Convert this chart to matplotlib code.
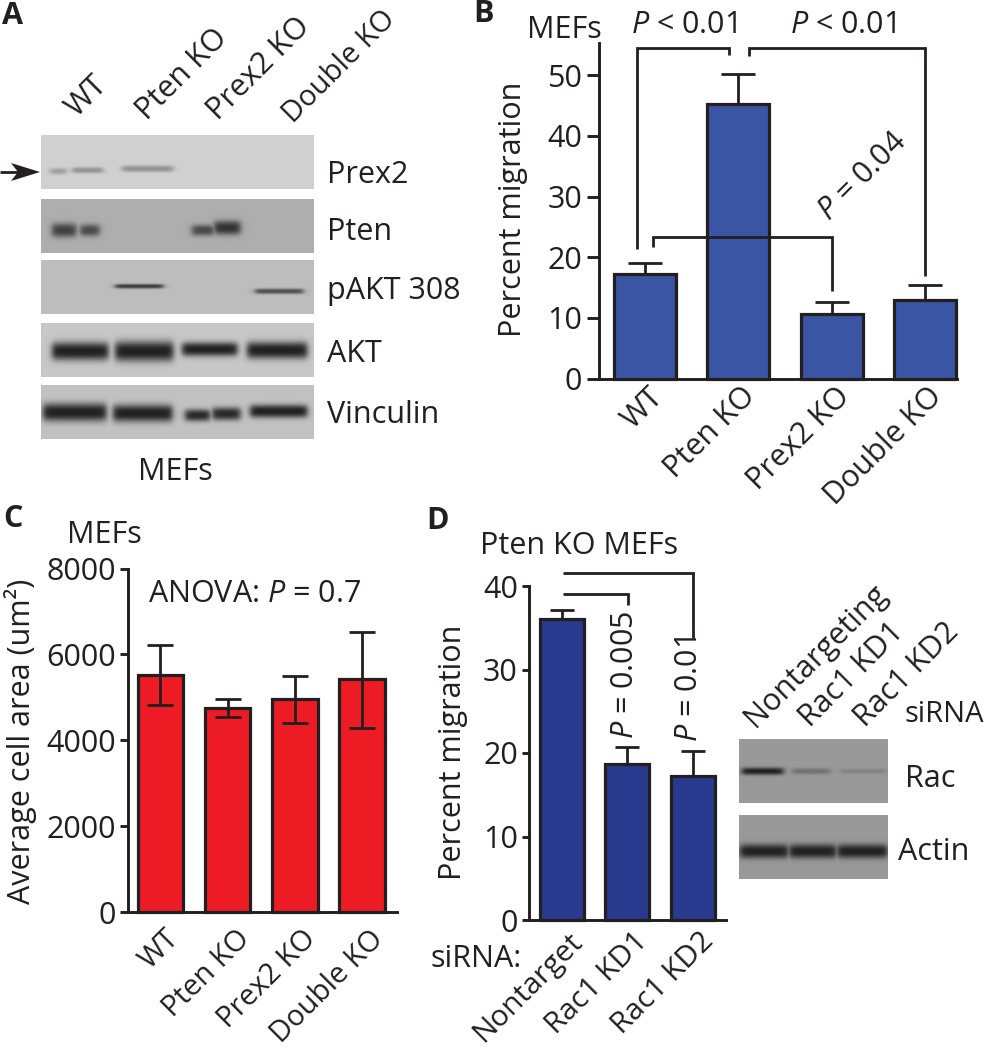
import numpy as np
import matplotlib
matplotlib.use("Agg")
import matplotlib.pyplot as plt
from matplotlib.patches import Polygon
from matplotlib.transforms import ScaledTranslation

W, H = 986, 1050
INK = "#231F20"
plt.rcParams["font.family"] = ["Open Sans", "DejaVu Sans"]
plt.rcParams["mathtext.fontset"] = "custom"
plt.rcParams["mathtext.it"] = "Open Sans:italic"
plt.rcParams["mathtext.rm"] = "Open Sans"
plt.rcParams["text.color"] = INK
FS = 22

# ---------- data ----------
geno = ["WT", "Pten KO", "Prex2 KO", "Double KO"]
mig_vals = [17.2, 45.2, 10.6, 12.9]
mig_err = [1.8, 5.0, 2.1, 2.6]
area_vals = [5530, 4760, 4955, 5420]
area_lo = [700, 230, 555, 1135]
area_hi = [690, 200, 530, 1100]
sirna = ["Nontarget", "Rac1 KD1", "Rac1 KD2"]
kd_vals = [36.0, 18.7, 17.3]
kd_err = [1.1, 2.0, 2.9]
mig_ticks = [0, 10, 20, 30, 40, 50]
area_ticks = [0, 2000, 4000, 6000, 8000]
kd_ticks = [0, 10, 20, 30, 40]

# blot panels: (left, top, right, bottom, background, bands)
# band: (x0, x1, y centre, half height, strength)
blots = [
    (41, 135, 314, 189, 0.82, [(50, 66, 171, 3.2, .30), (72, 103, 170, 3.0, .36), (122, 173, 168.5, 3.2, .36)]),
    (41, 199, 314, 253, 0.68, [(52, 76, 230, 7, .78), (80, 99, 230, 6, .72), (192, 214, 230, 5.5, .72), (214, 240, 227.5, 7, .88)]),
    (41, 260, 314, 314, 0.74, [(115, 163, 286, 2.2, .85), (255, 303, 291, 2.6, .72)]),
    (41, 323, 314, 377, 0.78, [(52, 108, 351, 9, 1), (115, 173, 351, 10, 1), (182, 237, 349, 7, 1), (247, 307, 350, 8.5, 1)]),
    (41, 385, 314, 439, 0.76, [(43, 106, 412, 9, 1), (113, 172, 413, 8.5, 1), (185, 210, 415, 6, .95), (212, 240, 413.5, 6.5, .95), (250, 307, 411, 6.5, 1)]),
    (739, 739, 888, 803, 0.60, [(742, 783, 771, 3.6, 1), (792, 830, 771, 3, .32), (840, 886, 771, 2.6, .18)]),
    (739, 815, 888, 879, 0.60, [(740, 788, 851, 7, 1), (789, 836, 851, 7, 1), (837, 887, 851, 7, 1)]),
]

fig = plt.figure(figsize=(W / 100, H / 100), dpi=100, facecolor="white")


def axes_px(l, t, r, b):
    ax = fig.add_axes([l / W, 1 - b / H, (r - l) / W, (b - t) / H])
    ax.patch.set_alpha(0)
    for s in ("top", "right"):
        ax.spines[s].set_visible(False)
    for s in ("left", "bottom"):
        ax.spines[s].set_linewidth(2.1)
        ax.spines[s].set_color(INK)
    return ax


def bar_panel(ax, labels, vals, ticks, color, tick_len, width, err_kw, dxs, pad, xfs=FS):
    x = np.arange(len(vals))
    ax.bar(x, vals, width=width, color=color, edgecolor=INK, linewidth=2.3, zorder=2, clip_on=False)
    ax.errorbar(x, vals, ecolor=INK, fmt="none", clip_on=False, **err_kw)
    ax.set_yticks(ticks)
    ax.tick_params(axis="y", length=tick_len, width=2.1, color=INK, labelsize=FS, pad=3, labelcolor=INK)
    ax.tick_params(axis="x", length=0, pad=pad, labelsize=xfs, labelcolor=INK)
    ax.set_xticks(x)
    ax.set_xticklabels(labels, rotation=45, ha="right", rotation_mode="anchor", va="top")
    for t, dx in zip(ax.get_xticklabels(), dxs):
        t.set_transform(t.get_transform() + ScaledTranslation(dx / 100, 0, fig.dpi_scale_trans))


def bracket(ax, xs, ys):
    ax.plot(xs, ys, color=INK, lw=2.0, clip_on=False, zorder=5, solid_joinstyle="miter", solid_capstyle="butt")


# ---------- panel B ----------
axB = axes_px(599, 43, 957, 378.7)
axB.set_xlim(-0.493, 3.345)
axB.set_ylim(0, 55.3)
bar_panel(axB, geno, mig_vals, mig_ticks, "#3B55A5", 9, 0.665,
          dict(yerr=mig_err, elinewidth=2.0, capsize=12, capthick=2.0, zorder=1), [3, 2, 3, 2], 2)
bracket(axB, [-0.086, -0.086, 0.9, 0.9], [21.3, 54.5, 54.5, 53.3])
bracket(axB, [1.115, 1.115, 3.0, 3.0], [53.1, 54.5, 54.5, 17.0])
bracket(axB, [0.086, 0.086, 2.0, 2.0], [21.7, 23.3, 23.3, 14.4])

# ---------- panel C ----------
axC = axes_px(127.5, 568.5, 397, 912)
axC.set_xlim(-0.49, 3.52)
axC.set_ylim(0, 8000)
bar_panel(axC, geno, area_vals, area_ticks, "#ED1C24", 5.5, 0.68,
          dict(yerr=[area_lo, area_hi], elinewidth=2.0, capsize=9.3, capthick=2.0, zorder=3), [4, 8, 7, 7], 9, xfs=21)

# ---------- panel D ----------
axD = axes_px(529, 586, 726, 920)
axD.set_xlim(-0.506, 2.51)
axD.set_ylim(0, 40)
bar_panel(axD, sirna, kd_vals, kd_ticks, "#283A8E", 5, 0.675,
          dict(yerr=kd_err, elinewidth=2.0, capsize=8.3, capthick=2.0, zorder=1), [6, 6, 6], 5, xfs=21.5)
bracket(axD, [0.015, 1.01, 1.01], [39.07, 39.07, 37.7])
bracket(axD, [0.015, 2.0, 2.0], [41.5, 41.5, 33.8])

# ---------- overlay in pixel coordinates: blots and text ----------
ov = fig.add_axes([0, 0, 1, 1], zorder=10)
ov.patch.set_alpha(0)
ov.axis("off")

for l, t, r, b, bg, bands in blots:
    S = 2
    xx = np.arange(l, r, 1 / S)
    yy = np.arange(t, b, 1 / S)
    X, Y = np.meshgrid(xx, yy)
    img = np.full(X.shape, float(bg))
    dark = np.zeros(X.shape)
    for x0, x1, yc, hh, k in bands:
        fx = (1 / (1 + np.exp(-(X - x0) / 1.8))) * (1 / (1 + np.exp((X - x1) / 1.8)))
        fy = np.exp(-np.abs((Y - yc) / hh) ** 2.5)
        dark = np.maximum(dark, k * fx * fy)
    img = img + (0.13 - img) * dark
    ov.imshow(img, cmap="gray", vmin=0, vmax=1, extent=(l, r, b, t), aspect="auto", interpolation="bilinear")
ov.set_xlim(0, W)
ov.set_ylim(H, 0)


def txt(x, y, s, rot=0, ha="left", va="baseline", fs=FS, **kw):
    ov.text(x, y, s, rotation=rot, ha=ha, va=va, fontsize=fs, rotation_mode="anchor", **kw)


for x, y, s in [(2, 24, "A"), (473, 22, "B"), (3, 527, "C"), (426, 529, "D")]:
    ov.text(x, y, s, fontsize=22, fontweight="bold", ha="left", va="baseline")

# panel A
for x, y, s, fs in [(77, 118, "WT", FS), (147, 121, "Pten KO", FS), (218, 121, "Prex2 KO", FS), (293, 124, "Double KO", 21)]:
    txt(x, y, s, rot=45, fs=fs)
for y, s in [(183, "Prex2"), (240, "Pten"), (299, "pAKT 308"), (362, "AKT"), (423, "Vinculin")]:
    txt(327, y, s)
txt(175, 480, "MEFs", ha="center")
ov.plot([0, 26], [172, 172], color=INK, lw=2.0, solid_capstyle="butt")
ov.add_patch(Polygon([(40, 172), (11, 163), (18, 172), (11, 181)], closed=True, facecolor=INK, edgecolor="none"))

# panel B
txt(527, 38, "MEFs")
txt(631, 33, r"$P$ < 0.01")
txt(790, 33, r"$P$ < 0.01")
txt(829, 222, r"$P$ = 0.04", rot=45)
txt(513, 209, "Percent migration", rot=90, ha="center", va="center")

# panel C
txt(67, 543, "MEFs")
txt(148, 602, r"ANOVA: $P$ = 0.7")
txt(21, 741, "Average cell area (um²)", rot=90, ha="center", va="center")

# panel D
txt(480, 554, "Pten KO MEFs")
txt(431, 967, "siRNA:")
txt(453, 752, "Percent migration", rot=90, ha="center", va="center")
txt(633, 739, r"$P$ = 0.005", rot=90)
txt(697, 742, r"$P$ = 0.01", rot=90)
for x, s in [(755, "Nontargeting"), (810, "Rac1 KD1"), (865, "Rac1 KD2")]:
    txt(x, 728, s, rot=45)
txt(904, 722, "siRNA", fs=21)
txt(905, 787, "Rac")
txt(898, 860, "Actin")

fig.savefig("out.png", dpi=100)
